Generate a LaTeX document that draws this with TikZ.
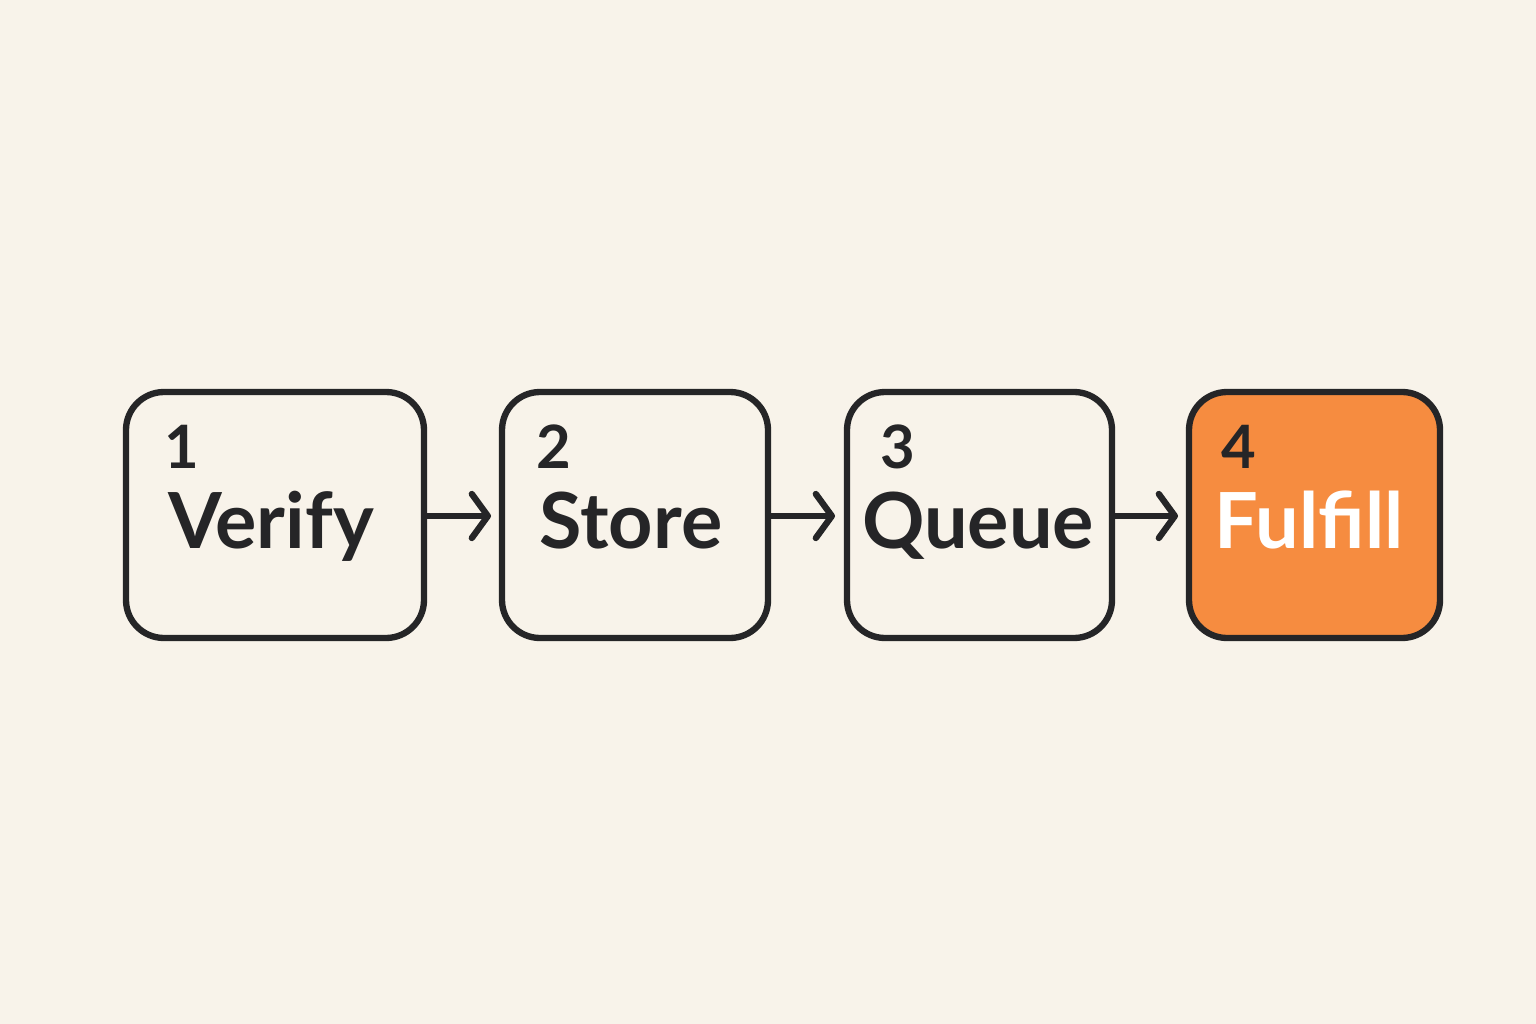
\documentclass[tikz,border=0pt]{standalone}
\usepackage{fontspec}
\setmainfont{Lato}
\usetikzlibrary{arrows.meta}
\definecolor{bg}{HTML}{F8F3EA}
\definecolor{ink}{HTML}{252527}
\definecolor{org}{HTML}{F68C40}
\begin{document}
\begin{tikzpicture}[x=0.01cm,y=-0.01cm,
  box/.style={draw=ink,line width=1.8pt,rounded corners=0.38cm,fill=bg},
  num/.style={text=ink,font=\fontsize{17}{17}\selectfont\bfseries,anchor=base west,inner sep=0},
  lab/.style={text=ink,font=\fontsize{22}{22}\selectfont\bfseries,anchor=base,inner sep=0},
  arr/.style={draw=ink,line width=1.8pt,line cap=round,-{Straight Barb[length=0.16cm,width=0.44cm,line cap=round,line join=round]}}]
\fill[bg] (0,0) rectangle (1536,1024);
\draw[box] (126,392) rectangle (424,638) coordinate (b1);
\draw[box] (502,392) rectangle (768,638);
\draw[box] (847,392) rectangle (1112,638);
\draw[box,fill=org] (1189,392) rectangle (1440,638);
\node[num] (n1) at (164,468) {1};
\node[num] (n2) at (536,468) {2};
\node[num] (n3) at (880,468) {3};
\node[num] (n4) at (1221,468) {4};
\node[lab] (l1) at (271,548) {Verify};
\node[lab] (l2) at (631,548) {Store};
\node[lab] (l3) at (978,548) {Queue};
\node[lab,text=white] (l4) at (1309,548) {Fulfill};
\coordinate (a1s) at (427,516); \coordinate (a1e) at (491,516);
\coordinate (a2s) at (771,516); \coordinate (a2e) at (835,516);
\coordinate (a3s) at (1115,516); \coordinate (a3e) at (1178,516);
\draw[arr] (a1s) -- (a1e);
\draw[arr] (a2s) -- (a2e);
\draw[arr] (a3s) -- (a3e);
\end{tikzpicture}
\end{document}
